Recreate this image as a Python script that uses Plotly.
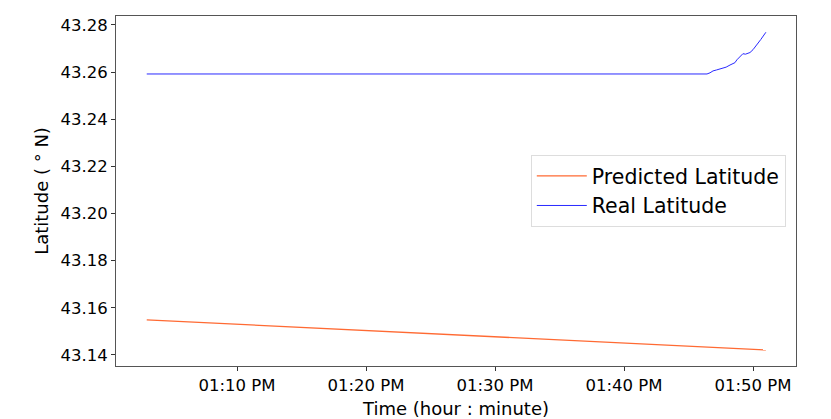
import plotly.graph_objects as go

# Predicted latitude
pred_time = ["2023-05-01 13:03:00", "2023-05-01 13:27:00", "2023-05-01 13:51:00"]
pred_lat = [43.1549, 43.1485, 43.1421]

# Real latitude
real_time = ["2023-05-01 13:03:00", "2023-05-01 13:20:00", "2023-05-01 13:40:00",
             "2023-05-01 13:46:26", "2023-05-01 13:46:40", "2023-05-01 13:46:54",
             "2023-05-01 13:47:10", "2023-05-01 13:47:26", "2023-05-01 13:47:40",
             "2023-05-01 13:47:55", "2023-05-01 13:48:13", "2023-05-01 13:48:25",
             "2023-05-01 13:48:36", "2023-05-01 13:48:45", "2023-05-01 13:48:55",
             "2023-05-01 13:49:05", "2023-05-01 13:49:13", "2023-05-01 13:49:25",
             "2023-05-01 13:49:37", "2023-05-01 13:49:46", "2023-05-01 13:50:00",
             "2023-05-01 13:50:18", "2023-05-01 13:50:36", "2023-05-01 13:51:00"]
real_lat = [43.2592, 43.2592, 43.2592,
            43.2592, 43.2597, 43.2605,
            43.2609, 43.2613, 43.2617,
            43.2621, 43.2630, 43.2634,
            43.2640, 43.2652, 43.2661,
            43.2673, 43.2678, 43.2676,
            43.2681, 43.2683, 43.2695,
            43.2715, 43.2738, 43.2769]

x_ticks = ["2023-05-01 13:10:00", "2023-05-01 13:20:00", "2023-05-01 13:30:00",
           "2023-05-01 13:40:00", "2023-05-01 13:50:00"]
x_ticklabels = ["01:10 PM", "01:20 PM", "01:30 PM", "01:40 PM", "01:50 PM"]
y_ticks = [43.14, 43.16, 43.18, 43.20, 43.22, 43.24, 43.26, 43.28]

fig = go.Figure()
fig.add_trace(go.Scatter(x=pred_time, y=pred_lat, mode="lines", name="Predicted Latitude",
                         line=dict(color="#ff6a33", width=1.3)))
fig.add_trace(go.Scatter(x=real_time, y=real_lat, mode="lines", name="Real Latitude",
                         line=dict(color="#2a2aff", width=1)))

axis_common = dict(showgrid=False, zeroline=False, showline=True, linecolor="#555555",
                   linewidth=1, mirror=True, ticks="outside", ticklen=4, tickcolor="#333",
                   automargin=False, tickfont=dict(size=16.5, color="black"))

fig.update_layout(
    width=823, height=411,
    margin=dict(l=108, r=35, t=8, b=53),
    paper_bgcolor="white", plot_bgcolor="white",
    font=dict(family="DejaVu Sans", color="black"),
    xaxis=dict(range=["2023-05-01 13:00:37", "2023-05-01 13:53:20"],
               tickvals=x_ticks, ticktext=x_ticklabels,
               title=dict(text="Time (hour : minute)", font=dict(size=18), standoff=14),
               **axis_common),
    yaxis=dict(range=[43.1353, 43.2838], tickvals=y_ticks,
               tickformat=".2f",
               title=dict(text="Latitude ( ° N)", font=dict(size=18), standoff=7),
               **axis_common),
    legend=dict(x=0.985, y=0.5, xanchor="right", yanchor="middle",
                bgcolor="white", bordercolor="#dddddd", borderwidth=1,
                itemwidth=50,
                font=dict(size=20.5, color="black")),
)

fig.write_html("out.html")
